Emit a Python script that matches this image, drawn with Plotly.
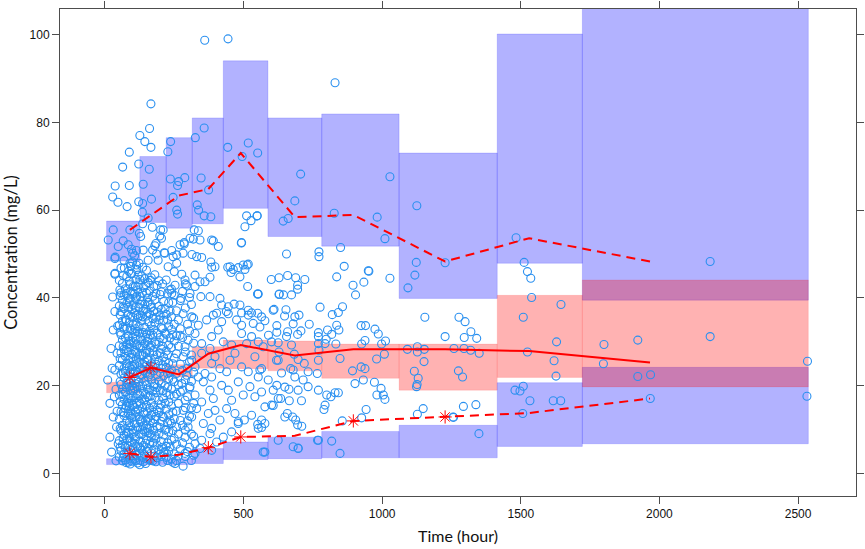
import plotly.graph_objects as go

# bins used for the simulated prediction intervals
bin_edges = [6, 126, 221, 315, 427, 588, 782, 1061, 1415, 1722, 2537]

# 95% CI of simulated 95th percentile
hi_pi_lo = [48.4, 57.2, 55.9, 56.9, 60.4, 54.0, 51.8, 39.9, 47.9, 39.5]
hi_pi_hi = [57.5, 72.2, 76.5, 81.0, 94.0, 81.0, 81.9, 73.0, 100.1, 112.0]
# 95% CI of simulated median
med_pi_lo = [18.4, 21.0, 22.0, 24.0, 23.9, 23.4, 21.7, 19.0, 21.9, 19.75]
med_pi_hi = [20.8, 24.0, 24.8, 28.9, 30.4, 30.2, 29.5, 29.5, 40.6, 44.1]
# 95% CI of simulated 5th percentile
lo_pi_lo = [2.05, 2.05, 2.05, 2.3, 3.2, 3.4, 3.6, 3.6, 6.2, 6.8]
lo_pi_hi = [3.4, 3.4, 3.4, 5.7, 7.2, 8.3, 9.6, 11.0, 20.7, 24.2]

# observed percentiles
pct_time = [90, 166, 267, 373, 490, 685, 896, 1227, 1530, 1966]
obs_p95 = [55.5, 58.9, 63.3, 64.8, 73.0, 58.4, 58.9, 48.3, 53.6, 48.3]
obs_p50 = [21.9, 24.1, 22.6, 27.3, 29.3, 26.9, 28.3, 28.3, 27.9, 25.3]
obs_p05 = [4.6, 3.8, 4.3, 5.9, 8.35, 8.6, 12.0, 12.9, 13.8, 17.1]
# percentiles falling outside their simulated interval
p50_out = [0, 1]
p05_out = [0, 1, 3, 4, 6, 7]

# observed concentrations
obs_upper = [
    (360, 98.7), (444, 99.0), (166, 84.2), (161, 78.6), (126, 77.0), (144, 75.6), (166, 74.3),
    (88, 73.2), (237, 75.6), (227, 73.3), (326, 76.5), (358, 78.7), (443, 74.3), (517, 75.3),
    (551, 73.0), (495, 72.2), (64, 69.8), (122, 70.5), (160, 69.3), (37, 65.5), (88, 65.6),
    (138, 65.9), (28, 63.0), (47, 61.8), (80, 60.8), (236, 67.1), (266, 66.5), (262, 65.6),
    (288, 67.4), (347, 67.3), (168, 62.5), (122, 61.9), (136, 61.5), (135, 59.5), (246, 62.9),
    (259, 60.0), (262, 59.1), (333, 61.2), (338, 60.0), (358, 58.7), (382, 58.5), (374, 64.6),
    (505, 56.2), (527, 57.6), (549, 58.7), (511, 58.7), (492, 52.5), (391, 53.0), (409, 51.7),
    (382, 48.2), (397, 47.1), (319, 53.4), (343, 53.2), (331, 49.4), (314, 49.9), (349, 49.2),
    (271, 52.1), (286, 52.6), (259, 49.8), (282, 50.2), (210, 55.5), (198, 54.1), (184, 52.4),
    (172, 50.9), (186, 50.0), (214, 50.3), (241, 50.8), (136, 56.9), (156, 58.2), (12, 53.2),
    (30, 55.5), (48, 51.7), (66, 53.0), (90, 55.5), (96, 51.1), (114, 50.8), (129, 54.0),
    (124, 54.7), (100, 50.2), (37, 49.3), (451, 47.1), (463, 46.5), (481, 46.9), (513, 47.5),
    (505, 46.5),
]
obs_upper_mid = [
    (36, 49.0), (70, 46.8), (90, 47.9), (114, 47.5), (96, 45.6), (120, 45.2), (36, 45.4),
    (138, 50.9), (171, 56.1), (201, 55.5), (180, 51.9), (204, 53.6), (156, 48.6), (192, 48.6),
    (216, 50.2), (307, 53.6), (322, 55.5), (337, 55.3), (286, 52.3), (385, 53.2), (493, 52.6),
    (499, 47.5), (517, 47.7), (487, 44.8), (515, 42.6), (551, 40.9), (246, 49.4), (259, 47.9),
    (228, 47.1), (250, 46.0), (277, 45.4), (289, 44.1), (325, 45.2), (343, 43.7), (361, 43.7),
    (379, 44.7), (385, 47.0), (325, 42.6), (295, 42.9), (253, 42.9), (234, 41.8), (241, 41.0),
    (274, 39.9), (307, 41.0), (346, 40.3), (379, 40.3), (415, 39.9), (421, 38.4), (445, 38.0),
    (466, 38.6), (487, 38.4), (517, 37.2), (529, 36.6), (493, 36.6), (551, 36.5), (443, 47.0),
    (455, 45.8), (403, 36.5), (438, 36.9),
]
obs_left = [
    (10, 21.3), (36, 36.9), (30, 32.7), (44, 27.4), (36, 23.6), (18, 16.0), (30, 12.9),
    (42, 10.6), (24, 4.9), (36, 45.6), (18, 8.3), (48, 6.8), (54, 41.8), (22, 28.5), (40, 19.2),
    (28, 40.2), (46, 33.6), (34, 17.5), (44, 14.2), (26, 24.0), (40, 2.9),
]
obs_blob = [
    (52, [3.8, 7.5, 12.4, 17.9, 24.6, 29.1, 33.8, 38.2, 44.0]),
    (55, [6.0, 10.3, 16.4, 21.0, 26.2, 32.2, 36.1, 40.5]),
    (58, [5.2, 9.8, 14.1, 20.3, 22.7, 27.5, 31.6, 36.9, 41.2, 46.8]),
    (63, [2.9, 6.6, 11.0, 15.7, 19.2, 25.9, 30.4, 34.7, 39.5, 43.3]),
    (66, [3.6, 8.0, 13.9, 18.1, 22.9, 28.9, 33.4, 38.0, 45.1]),
    (69, [4.4, 8.7, 13.2, 16.9, 21.8, 24.0, 28.3, 32.9, 37.6, 40.7, 48.5]),
    (74, [3.1, 5.9, 10.2, 14.8, 18.5, 23.3, 26.7, 30.9, 35.2, 42.1]),
    (77, [2.5, 9.1, 15.4, 19.6, 24.5, 28.0, 34.9, 41.0]),
    (79, [4.9, 7.8, 12.0, 16.2, 20.6, 25.1, 29.4, 33.1, 38.8, 44.9]),
    (84, [2.6, 6.3, 9.4, 13.8, 17.4, 22.2, 27.8, 31.3, 36.2, 40.0, 52.1]),
    (86, [4.8, 10.9, 16.0, 21.0, 25.8, 30.2, 37.9, 46.1]),
    (88, [3.5, 8.1, 11.6, 15.3, 19.7, 24.3, 28.8, 34.4, 39.1, 43.8]),
    (91, [2.2, 7.3, 13.1, 17.2, 23.1, 29.5, 33.0, 39.9, 43.0]),
    (93, [5.5, 10.7, 14.3, 18.9, 21.2, 26.4, 30.1, 35.8, 41.5, 47.2]),
    (97, [2.8, 7.1, 12.7, 16.6, 20.0, 23.7, 27.2, 32.6, 37.3, 45.5]),
    (100, [5.9, 10.0, 15.6, 19.0, 24.4, 31.0, 35.6, 41.0, 48.2]),
    (102, [4.1, 9.2, 13.5, 17.7, 22.9, 25.6, 29.8, 33.9, 38.4, 42.6]),
    (107, [3.3, 6.9, 11.3, 15.1, 19.4, 24.8, 28.1, 31.9, 36.6, 40.9, 49.6]),
    (110, [2.9, 7.9, 14.0, 20.5, 23.3, 27.6, 33.0, 37.8, 42.7]),
    (112, [5.0, 8.4, 12.9, 17.2, 21.5, 26.1, 30.6, 34.1, 39.8, 44.2]),
    (115, [4.2, 9.9, 16.0, 19.8, 25.0, 29.3, 36.1, 40.4, 46.5]),
    (118, [2.4, 6.1, 10.5, 14.6, 18.2, 23.0, 27.4, 32.3, 35.5, 41.8]),
    (123, [4.6, 9.0, 13.0, 16.4, 20.8, 25.3, 29.0, 33.5, 37.9, 43.0, 47.9]),
    (126, [2.0, 6.0, 12.4, 17.8, 22.5, 27.0, 32.0, 38.6, 44.2]),
    (128, [3.0, 7.4, 11.8, 15.9, 19.9, 24.1, 28.6, 31.1, 36.0, 40.3]),
    (133, [5.3, 8.9, 12.2, 17.0, 22.4, 26.9, 30.3, 34.8, 39.3, 45.0]),
    (136, [4.0, 10.0, 15.0, 20.0, 25.0, 29.0, 35.7, 41.1, 47.0]),
    (139, [2.7, 6.4, 10.9, 14.0, 18.7, 23.5, 27.0, 32.1, 37.0, 42.4]),
    (144, [4.3, 9.6, 13.6, 16.8, 21.0, 25.4, 29.6, 33.3, 38.6, 44.4]),
    (147, [2.3, 6.9, 12.1, 18.0, 23.0, 27.4, 31.0, 37.4, 43.0]),
    (150, [3.4, 7.7, 11.1, 15.5, 20.2, 24.6, 28.2, 31.8, 35.9, 41.1, 46.3]),
    (153, [5.0, 10.2, 14.1, 19.3, 25.9, 30.1, 36.7, 40.0]),
    (156, [5.7, 9.3, 12.6, 17.5, 22.0, 26.2, 30.8, 34.6, 39.0, 43.5]),
    (161, [3.2, 6.8, 10.4, 14.9, 19.0, 23.8, 27.6, 32.4, 36.4, 41.6]),
    (164, [3.0, 9.0, 12.0, 17.7, 22.6, 28.8, 31.6, 38.5, 44.0]),
    (167, [4.7, 8.2, 13.3, 16.1, 21.3, 25.0, 29.2, 33.7, 37.8, 44.6]),
    (173, [2.9, 7.0, 11.5, 15.2, 18.8, 24.4, 28.0, 31.5, 35.3, 40.4]),
    (176, [5.6, 9.9, 14.0, 19.9, 23.4, 27.0, 32.8, 37.0, 42.6]),
    (180, [4.0, 8.6, 12.3, 17.3, 20.5, 26.0, 30.0, 34.3, 39.6, 45.3]),
    (184, [2.7, 7.9, 13.0, 18.5, 24.9, 29.5, 35.6, 41.0]),
    (188, [3.6, 6.5, 10.8, 14.4, 19.6, 22.5, 27.1, 32.0, 36.8, 42.8]),
    (195, [5.4, 9.1, 13.9, 16.7, 21.1, 25.7, 29.9, 35.0, 38.1, 43.9]),
    (199, [4.4, 10.5, 15.0, 19.0, 23.0, 27.5, 31.0, 36.0, 40.8]),
    (203, [3.9, 7.3, 11.9, 15.8, 20.4, 23.9, 28.4, 33.2, 37.4, 41.4]),
    (208, [2.6, 6.0, 13.0, 18.9, 24.8, 29.0, 33.0, 43.2]),
    (212, [4.8, 8.8, 12.8, 17.1, 22.3, 26.5, 30.7, 34.9, 39.2]),
    (217, [5.0, 9.9, 16.0, 20.0, 25.6, 32.0, 37.6]),
    (221, [3.7, 6.2, 10.1, 14.7, 18.4, 24.2, 27.9, 31.7, 36.3, 44.1]),
    (226, [3.0, 7.0, 11.6, 19.6, 22.8, 27.0, 35.0, 41.0]),
    (230, [5.1, 9.5, 13.4, 16.3, 21.6, 25.2, 29.3, 33.6, 38.9]),
    (235, [6.1, 12.0, 17.9, 23.0, 30.9, 37.0]),
    (240, [3.3, 7.6, 11.4, 15.4, 19.3, 23.6, 28.7, 32.8, 35.7, 42.0]),
    (245, [2.6, 9.8, 14.0, 21.5, 25.0, 31.6, 39.0]),
    (250, [4.5, 8.0, 12.5, 17.6, 20.9, 26.3, 30.2, 34.0, 40.6]),
    (258, [3.0, 6.7, 10.6, 14.2, 18.1, 22.8, 27.3, 31.4, 37.1]),
    (265, [4.0, 9.0, 16.0, 20.2, 29.0, 35.0]),
    (272, [5.6, 12.1, 18.6, 24.9, 33.0, 39.4]),
    (280, [7.0, 11.0, 19.0, 23.5, 31.0, 41.5]),
    (290, [3.9, 9.9, 15.0, 21.4, 27.7, 37.7, 43.2]),
    (298, [5.0, 12.0, 17.5, 24.0, 34.0]),
    (305, [6.0, 13.1, 19.5, 25.5, 32.5, 40.1]),
    (312, [3.0, 9.0, 15.0, 21.0, 27.0, 38.5]),
    (320, [4.2, 8.5, 16.0, 23.1, 29.7, 35.4]),
]
obs_mid = [
    (282, 36.4), (313, 35.7), (337, 33.8), (367, 35.0), (391, 36.1), (421, 34.6), (445, 36.4),
    (475, 35.0), (493, 33.8), (517, 36.1), (535, 34.2), (565, 35.7), (559, 33.4),
    (271, 31.5), (300, 30.4), (325, 31.9), (349, 29.6), (385, 31.2), (409, 32.7), (427, 30.0),
    (457, 29.3), (493, 31.9), (511, 29.6), (529, 31.2), (553, 30.0), (571, 28.9), (379, 28.5),
    (289, 28.9),
    (282, 26.6), (313, 25.8), (325, 24.3), (349, 27.4), (361, 22.8), (385, 25.1), (397, 26.6),
    (415, 23.9), (439, 23.2), (451, 25.8), (469, 27.4), (493, 24.3), (517, 23.2), (541, 26.6),
    (565, 23.9), (553, 22.0), (295, 22.4), (337, 22.0), (385, 22.0),
    (277, 20.5), (307, 19.8), (325, 17.9), (355, 20.9), (379, 19.0), (391, 17.1), (421, 20.1),
    (445, 19.0), (457, 16.7), (481, 20.9), (499, 17.9), (523, 19.8), (541, 17.5), (565, 18.6),
    (289, 16.7), (349, 16.3),
    (282, 14.4), (313, 12.9), (331, 14.8), (355, 11.4), (373, 13.7), (397, 14.4), (415, 12.2),
    (439, 14.8), (469, 13.7), (481, 11.4), (503, 12.2), (529, 13.3), (553, 10.3), (565, 12.2),
    (300, 10.6), (385, 10.3),
    (289, 8.3), (325, 6.8), (349, 7.6), (379, 9.1), (403, 7.2), (427, 8.3), (457, 9.5),
    (481, 11.8), (325, 4.6), (289, 4.6), (253, 2.3), (282, 1.7), (343, 5.7), (385, 5.3),
]
obs_late = [
    (706, 68.2), (1028, 67.6), (685, 62.1), (549, 58.7), (643, 57.5), (661, 58.1), (827, 59.3),
    (982, 58.4), (1010, 53.5), (1125, 61.0), (1123, 48.1), (1118, 45.2), (1093, 42.3),
    (1227, 48.0), (655, 50.0), (772, 50.5), (772, 49.4), (850, 51.5), (863, 47.2), (551, 40.9),
    (600, 44.2), (628, 44.6), (659, 45.1), (688, 44.6), (721, 44.2), (695, 42.9), (695, 42.0),
    (673, 40.7), (628, 40.8), (836, 44.8), (952, 46.1), (934, 43.6), (895, 42.9), (904, 40.7),
    (1028, 44.5), (610, 37.4), (653, 37.3), (648, 35.9), (776, 37.9), (857, 38.0), (842, 36.7),
    (820, 36.2), (700, 36.1), (577, 34.8), (620, 33.7), (620, 32.2), (659, 32.3), (679, 34.1),
    (695, 31.7), (737, 34.0), (707, 32.5), (770, 32.1), (770, 31.2), (803, 32.7), (818, 31.7),
    (844, 32.7), (836, 33.8), (833, 29.5), (924, 33.7), (940, 33.7), (974, 32.9), (986, 31.8),
    (998, 29.5), (1012, 30.2), (938, 30.3), (926, 29.5), (590, 31.5), (601, 30.0), (625, 29.8),
    (673, 29.3), (628, 27.7), (625, 25.8), (683, 27.2), (697, 26.0), (719, 25.1), (770, 29.6),
    (772, 28.1), (770, 25.8), (798, 30.6), (794, 29.6), (848, 26.2), (893, 23.4), (924, 24.3),
    (938, 23.9), (980, 26.1), (1008, 27.2), (1091, 28.3), (1127, 28.9), (1127, 27.7),
    (1152, 28.3), (1151, 25.5), (1227, 31.2), (1154, 35.6), (1116, 23.3), (1130, 21.7),
    (1126, 20.3), (1124, 19.8), (1148, 14.8), (1127, 13.5), (1256, 12.9), (559, 23.6),
    (589, 21.3), (620, 20.1), (637, 22.9), (670, 23.9), (685, 22.0), (715, 21.3), (733, 23.2),
    (664, 19.2), (697, 19.0), (634, 17.1), (665, 16.6), (709, 16.6), (733, 19.8), (577, 15.2),
    (607, 15.5), (625, 17.1), (658, 13.7), (677, 12.9), (688, 12.2), (710, 10.8), (695, 11.1),
    (565, 10.5), (551, 11.2), (770, 19.0), (766, 22.8), (800, 17.9), (815, 17.5), (830, 18.4),
    (842, 18.4), (794, 15.6), (790, 14.6), (902, 20.5), (932, 21.3), (942, 14.6), (972, 20.8),
    (996, 19.4), (981, 17.9), (1004, 17.9), (1010, 16.9), (856, 12.0), (926, 12.7), (770, 7.6),
    (697, 5.8), (848, 4.6), (818, 7.4), (577, 4.9), (830, 89.0), (1483, 53.7), (1512, 48.1),
    (1524, 46.0), (1536, 44.5), (950, 46.2), (1277, 35.6), (1299, 34.6), (1320, 32.3),
    (1296, 31.0), (1341, 30.8), (1259, 28.5), (1295, 28.5), (1319, 28.1), (1350, 27.4),
    (1275, 23.4), (1290, 22.0), (1293, 15.3), (1338, 15.7), (1257, 12.8), (1349, 9.1),
    (1509, 35.6), (1524, 27.7), (1497, 18.8), (1479, 19.0), (1509, 19.9), (1533, 16.6),
    (1507, 13.7), (1539, 40.1), (1645, 38.5), (1629, 30.0), (1620, 25.7), (1627, 22.2),
    (1617, 16.6), (1644, 16.6), (2183, 48.3), (1800, 29.4), (1922, 30.4), (2183, 31.2),
    (1798, 25.0), (1922, 22.1), (1968, 22.5), (1967, 17.1), (2534, 25.6), (2532, 17.6),
    (553, 40.9), (629, 40.9), (644, 40.7), (607, 37.2), (685, 35.7), (601, 15.6), (577, 11.4),
    (649, 12.9), (625, 7.6), (679, 6.1), (571, 4.9), (607, 19.0), (649, 19.7), (619, 25.8),
    (679, 23.6), (655, 31.2), (767, 7.6), (697, 5.7),
]

obs_t, obs_c = [], []
for group in (obs_upper, obs_upper_mid, obs_left, obs_mid, obs_late):
    for t, c in group:
        obs_t.append(t)
        obs_c.append(c)
for t, cs in obs_blob:
    for c in cs:
        obs_t.append(t)
        obs_c.append(c)

BLUE = "rgba(0,0,255,0.3)"
PINK = "rgba(255,0,0,0.3)"
EDGE = "rgba(0,0,255,0.15)"

fig = go.Figure()

shapes = []
for i in range(len(bin_edges) - 1):
    x0, x1 = bin_edges[i], bin_edges[i + 1]
    for lo, hi, col in ((hi_pi_lo, hi_pi_hi, BLUE), (lo_pi_lo, lo_pi_hi, BLUE),
                        (med_pi_lo, med_pi_hi, PINK)):
        shapes.append(dict(type="rect", xref="x", yref="y", x0=x0, x1=x1,
                           y0=lo[i], y1=hi[i], fillcolor=col, layer="below",
                           line=dict(color=EDGE if col == BLUE else "rgba(255,0,0,0.1)",
                                     width=1)))

fig.add_trace(go.Scatter(x=obs_t, y=obs_c, mode="markers",
                         marker=dict(symbol="circle-open", size=8, color="#2a90f0",
                                     line=dict(width=1.1)),
                         hoverinfo="x+y", showlegend=False))

red = "#ff0000"
fig.add_trace(go.Scatter(x=pct_time, y=obs_p95, mode="lines",
                         line=dict(color=red, width=2, dash="9px,6px"), showlegend=False))
fig.add_trace(go.Scatter(x=pct_time, y=obs_p05, mode="lines",
                         line=dict(color=red, width=2, dash="9px,6px"), showlegend=False))
fig.add_trace(go.Scatter(x=pct_time, y=obs_p50, mode="lines",
                         line=dict(color=red, width=2), showlegend=False))
fig.add_trace(go.Scatter(x=[pct_time[i] for i in p50_out] + [pct_time[i] for i in p05_out],
                         y=[obs_p50[i] for i in p50_out] + [obs_p05[i] for i in p05_out],
                         mode="markers",
                         marker=dict(symbol="asterisk-open", size=11, color=red,
                                     line=dict(color=red, width=1)),
                         showlegend=False))

axis_common = dict(showline=True, linecolor="#4d4d4d", linewidth=1, mirror="ticks",
                   ticks="outside", ticklen=7, tickcolor="#4d4d4d", showgrid=False,
                   zeroline=False, automargin=False,
                   tickfont=dict(family="Liberation Sans", size=12, color="#111111"))
fig.update_layout(
    width=865, height=549,
    margin=dict(l=60, r=9, t=9, b=53),
    paper_bgcolor="white", plot_bgcolor="white",
    shapes=shapes,
    xaxis=dict(range=[-162, 2709], tickvals=[0, 500, 1000, 1500, 2000, 2500],
               title=dict(text="Time (hour)", font=dict(family="Lato", size=16, color="#111"),
                          standoff=10),
               **axis_common),
    yaxis=dict(range=[-5.1, 105.8], tickvals=[0, 20, 40, 60, 80, 100],
               title=dict(text="Concentration (mg/L)",
                          font=dict(family="Lato", size=16.5, color="#111"), standoff=7),
               **axis_common),
)

# the page body has a default 8px margin; remove it so the figure fills the window
fig.write_html("out.html", config={"displayModeBar": False},
               post_script="document.body.style.margin='0';")
